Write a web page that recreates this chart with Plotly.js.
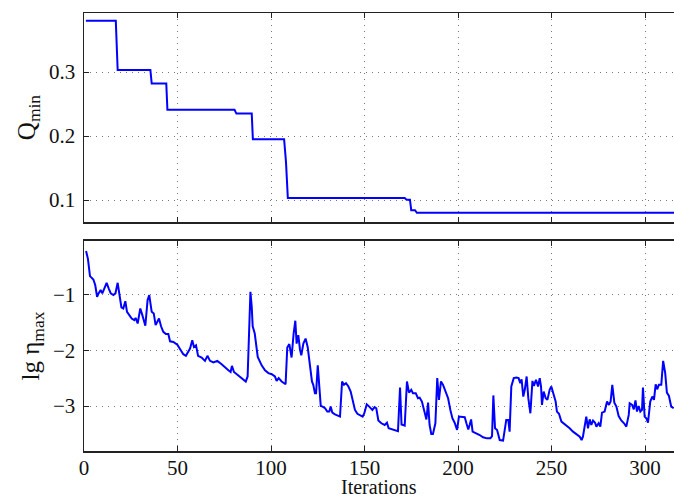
<!DOCTYPE html>
<html>
<head>
<meta charset="utf-8">
<script src="https://cdn.plot.ly/plotly-3.0.1.min.js"></script>
<style>html,body{margin:0;padding:0;background:#fff}#chart{width:674px;height:499px}</style>
</head>
<body>
<div id="chart"></div>
<script>
// Top panel: Q_min (step function)
const qIter = [1, 17, 18, 35.5, 36.2, 44, 44.6, 80.5, 81.5, 89.7, 90.3, 107, 108, 109, 171.5, 172.5, 174.3, 175, 177, 178, 316];
const qMin  = [0.380, 0.380, 0.303, 0.303, 0.282, 0.282, 0.241, 0.241, 0.235, 0.235, 0.195, 0.195, 0.160, 0.103, 0.103, 0.1005, 0.1005, 0.084, 0.084, 0.080, 0.080];

// Bottom panel: lg eta_max
const etaIter = [1.1,2.1,3.2,5,6,7,7.8,8.9,9.8,10.9,12.1,13.2,14.3,15.7,16.8,18,18.9,20,21,22.1,23,24.1,25.5,26.9,27.6,28.7,30.1,31.2,32.8,34,34.9,36.2,37.3,38.3,40.1,41.2,42.4,43.8,45.1,46,47.8,49.9,51.3,53.1,54.5,55.6,56.7,57.9,58.8,59.9,61,62.9,64.7,66,67.4,69.2,71.3,73.6,75.4,77.2,78.4,79.1,80.2,82,84.3,86.5,87.5,89,89.7,90.2,91.3,92.9,95,96.8,98.6,100.4,102.1,103,104.1,105.7,107.8,108.7,109.8,111,112.1,113,113.7,114.6,115.5,116.2,117.3,118.5,119.6,120.9,121.9,122.6,123.5,124.1,125,125.9,126.6,127.6,128.9,130.1,131.2,131.9,132.8,134.2,136,136.9,138,139,140.1,141.4,142.6,143.7,144.9,146.2,147.6,149,149.9,151.2,152.8,154.2,155.4,156.3,157.4,159,160.8,162,162.9,165.2,167.9,169,169.8,171.5,172.7,173.8,175,175.9,177.4,178.6,179.5,180.7,182.2,183.1,184,184.8,185.7,186.6,187.9,188.9,189.8,190.9,192,193.2,194.7,195.9,197,198.2,199.5,200.5,202,203.6,204.5,205.5,206.2,207,207.8,209.4,211.6,213.4,215.5,217.3,218.2,218.9,219.8,220.9,222.3,224.1,225,225.8,226.9,227.6,228.5,229.8,231.2,232.4,233.3,234,234.9,235.7,236.7,237.6,238.7,239.8,240.6,241.7,242.8,243.7,244.4,244.9,245.8,246.9,247.8,249,249.9,251.2,252.2,252.9,254,255.3,256.5,257.9,259.7,261.5,263.3,265.1,266.1,266.8,267.7,268.6,269.5,270.4,271.3,272.2,273.3,274,275.2,276.1,277,278.4,279.7,280.7,281.6,282.5,283.6,284.7,285.9,287.3,288.8,290,291.3,291.8,293.1,294,294.9,295.7,296.6,297.5,298.4,298.9,299.8,300.7,301.6,302.8,303.9,304.8,305.7,306.5,307.4,308.7,309.7,310.8,311.7,312.8,314,315.3];
const lgEta = [-0.22,-0.36,-0.67,-0.73,-0.83,-1.04,-0.98,-0.92,-0.98,-0.87,-0.79,-0.89,-0.98,-1.01,-0.98,-0.79,-0.98,-1.23,-1.25,-1.12,-1.31,-1.37,-1.43,-1.46,-1.42,-1.52,-1.25,-1.37,-1.56,-1.10,-1.01,-1.31,-1.34,-1.55,-1.43,-1.57,-1.67,-1.71,-1.71,-1.84,-1.85,-1.90,-1.97,-2.07,-2.10,-2.03,-1.97,-1.82,-1.94,-1.91,-2.10,-2.13,-2.19,-2.10,-2.19,-2.22,-2.19,-2.25,-2.31,-2.36,-2.39,-2.28,-2.39,-2.44,-2.49,-2.56,-2.47,-0.95,-1.22,-1.57,-1.70,-2.12,-2.27,-2.36,-2.41,-2.43,-2.47,-2.55,-2.50,-2.56,-2.61,-1.95,-1.89,-2.13,-1.70,-1.47,-1.88,-1.73,-1.99,-2.09,-1.88,-1.79,-1.94,-2.30,-2.56,-2.62,-2.77,-2.77,-2.27,-2.68,-3.00,-3.01,-3.04,-3.10,-3.10,-3.01,-3.12,-3.15,-3.17,-3.19,-2.56,-2.62,-2.59,-2.65,-2.74,-2.89,-3.07,-3.14,-3.16,-3.19,-3.13,-2.97,-3.02,-3.07,-3.02,-3.04,-3.26,-3.31,-3.34,-3.30,-3.40,-3.42,-3.45,-2.67,-3.33,-3.35,-2.56,-2.76,-2.71,-2.77,-2.77,-2.86,-2.85,-2.92,-3.10,-3.24,-2.94,-3.34,-3.50,-3.50,-3.31,-2.50,-2.89,-2.56,-2.62,-2.74,-2.86,-3.07,-3.22,-3.30,-3.43,-3.19,-3.19,-3.20,-3.31,-3.42,-3.34,-3.24,-3.46,-3.48,-3.52,-3.56,-3.58,-3.58,-3.54,-2.81,-3.40,-3.43,-3.61,-3.62,-3.43,-3.25,-3.25,-3.46,-2.65,-2.50,-2.49,-2.50,-2.59,-2.52,-2.83,-2.71,-2.47,-2.86,-3.13,-2.55,-2.64,-2.53,-2.65,-2.50,-2.65,-2.98,-2.74,-2.86,-2.89,-2.71,-2.65,-2.80,-2.92,-3.10,-3.14,-3.28,-3.31,-3.36,-3.40,-3.46,-3.50,-3.55,-3.61,-3.55,-3.37,-3.19,-3.40,-3.24,-3.34,-3.26,-3.30,-3.37,-3.31,-3.37,-3.12,-3.10,-2.92,-2.98,-2.92,-2.62,-2.94,-3.01,-3.18,-3.26,-3.31,-3.37,-3.16,-2.95,-2.98,-3.06,-2.90,-3.10,-3.00,-3.10,-3.07,-2.67,-3.19,-3.22,-3.30,-2.92,-2.83,-2.89,-2.61,-2.70,-2.62,-2.62,-2.19,-2.41,-2.76,-2.82,-3.01,-3.04];

const xTicks = [0, 50, 100, 150, 200, 250, 300];
const qTicks = [0.1, 0.2, 0.3];
const etaTicks = [-3, -2, -1];

const FONT = '"Liberation Serif", "Times New Roman", Times, serif';
const lineStyle = {color: '#0000ff', width: 2};

const traces = [
  {x: qIter, y: qMin, type: 'scatter', mode: 'lines', line: lineStyle, xaxis: 'x', yaxis: 'y'},
  {x: etaIter, y: lgEta, type: 'scatter', mode: 'lines', line: lineStyle, xaxis: 'x2', yaxis: 'y2'}
];

const common = {
  showline: true, linecolor: '#222', linewidth: 1.5,
  ticks: 'inside', ticklen: 5, tickcolor: '#222', tickwidth: 1,
  showgrid: true, gridcolor: '#777', griddash: '1px,5px', gridwidth: 1,
  zeroline: false,
  tickfont: {family: FONT, size: 21, color: '#111'}
};

const layout = {
  width: 674, height: 499,
  margin: {l: 84, r: 0, t: 13, b: 48},
  paper_bgcolor: '#fff', plot_bgcolor: '#fff',
  showlegend: false,
  font: {family: FONT, color: '#111'},
  xaxis: Object.assign({}, common, {
    domain: [0, 1], range: [0, 315.5], tickvals: xTicks, showticklabels: false,
    mirror: 'ticks', anchor: 'y'
  }),
  yaxis: Object.assign({}, common, {
    domain: [0.5228, 1], range: [0.0656, 0.3922], tickvals: qTicks, ticktext: qTicks.map(v => v.toFixed(1)),
    anchor: 'x', ticklabelstandoff: 3,
    title: {text: 'Q<sub>min</sub>', font: {family: FONT, size: 25, color: '#111'}, standoff: 6}
  }),
  xaxis2: Object.assign({}, common, {
    domain: [0, 1], range: [0, 315.5], tickvals: xTicks, anchor: 'y2',
    mirror: 'ticks', ticklabelstandoff: -3
  }),
  yaxis2: Object.assign({}, common, {
    domain: [0, 0.4795], range: [-3.807, -0.04], tickvals: etaTicks, anchor: 'x2', ticklabelstandoff: 3,
    title: {text: 'lg η<sub>max</sub>', font: {family: FONT, size: 25, color: '#111'}, standoff: 6}
  }),
  annotations: [{
    text: 'Iterations', xref: 'x2', yref: 'paper', x: 157.75, y: -0.1096,
    xanchor: 'center', yanchor: 'bottom', showarrow: false, borderpad: 0,
    font: {family: FONT, size: 20, color: '#111'}
  }]
};

Plotly.newPlot('chart', traces, layout, {displayModeBar: false, staticPlot: true});
</script>
</body>
</html>
